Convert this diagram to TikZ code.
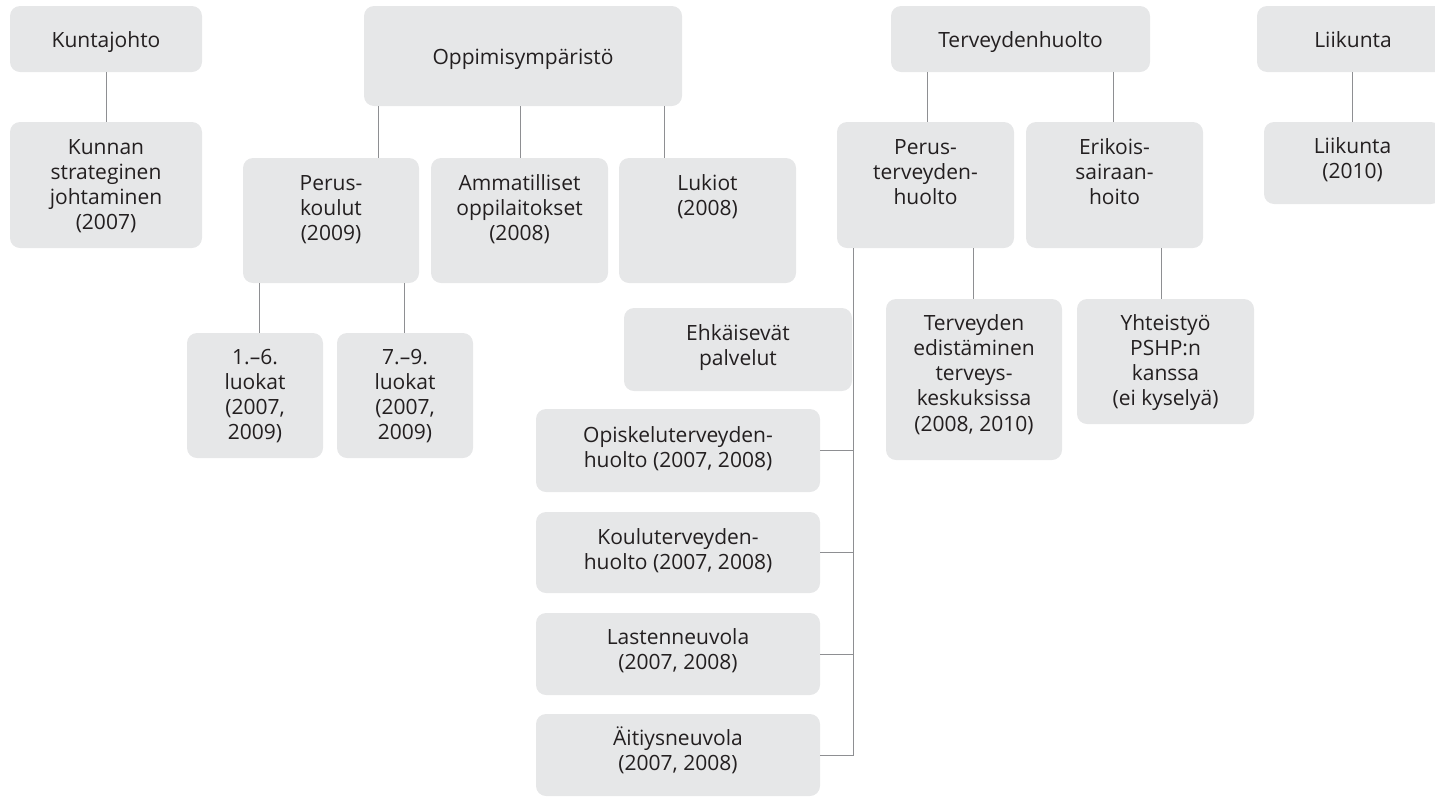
\documentclass[tikz,border=0pt]{standalone}
\usepackage{fontspec}
\setmainfont{Open Sans}
\definecolor{boxgray}{HTML}{E6E7E8}
\definecolor{linegray}{HTML}{8E8F92}
\definecolor{ink}{HTML}{231F20}

% name, x, y, width, height, first-baseline offset, text
\newcommand\orgbox[7]{%
  \node[box, minimum width=#4pt, minimum height=#5pt] (#1) at (#2,#3) {};
  \node[lbl] (#1-t) at ([yshift=-#6pt]#1.north) {\parbox[t]{#4pt}{\centering #7}};
}

\tikzset{
  box/.style={fill=boxgray, draw=none, rounded corners=10pt, anchor=north west, inner sep=0pt, outer sep=0pt},
  lbl/.style={anchor=base, inner sep=0pt, text=ink, font=\fontsize{21}{25.3}\selectfont},
  link/.style={draw=linegray, line width=1pt}
}

\begin{document}
\begin{tikzpicture}[x=1pt, y=-1pt]
\useasboundingbox (0,0) rectangle (1435,796);

% connector positions
\coordinate (c-kj) at (106,0);
\coordinate (c-pk) at (378,0);
\coordinate (c-am) at (520,0);
\coordinate (c-lu) at (664,0);
\coordinate (c-l16) at (259,0);
\coordinate (c-l79) at (404,0);
\coordinate (c-pt) at (927,0);
\coordinate (c-er) at (1113,0);
\coordinate (c-li) at (1352,0);
\coordinate (c-ed) at (973,0);
\coordinate (c-yh) at (1161,0);
\coordinate (c-trunk) at (853,0);

% Kuntajohto
\orgbox{kunta}{10}{6}{192}{66}{41}{Kuntajohto}
\orgbox{kstrat}{10}{122}{192}{126}{32}{Kunnan\\strateginen\\johtaminen\\(2007)}

% Oppimisympäristö
\orgbox{oppi}{364}{6}{318}{100}{58}{Oppimisympäristö}
\orgbox{perus}{243}{158}{176}{125}{32}{Perus-\\koulut\\(2009)}
\orgbox{ammat}{431}{158}{177}{125}{32}{Ammatilliset\\oppilaitokset\\(2008)}
\orgbox{lukiot}{619}{158}{177}{125}{32}{Lukiot\\(2008)}
\orgbox{lk16}{187}{333}{136}{125}{31}{1.–6.\\luokat\\(2007,\\2009)}
\orgbox{lk79}{337}{333}{136}{125}{31}{7.–9.\\luokat\\(2007,\\2009)}

% Terveydenhuolto
\orgbox{terv}{891}{6}{259}{66}{41}{Terveydenhuolto}
\orgbox{pterv}{837}{122}{177}{126}{32}{Perus-\\terveyden-\\huolto}
\orgbox{erik}{1026}{122}{177}{126}{32}{Erikois-\\sairaan-\\hoito}
\orgbox{edist}{886}{299}{176}{161}{31}{Terveyden\\edistäminen\\terveys-\\keskuksissa\\(2008, 2010)}
\orgbox{yht}{1077}{299}{177}{125}{31}{Yhteistyö\\PSHP:n\\kanssa\\(ei kyselyä)}
\orgbox{ehk}{624}{308}{228}{83}{32}{Ehkäisevät\\palvelut}
\orgbox{opisk}{536}{409}{284}{83}{33}{Opiskeluterveyden-\\huolto (2007, 2008)}
\orgbox{koulu}{536}{512}{284}{81}{32}{Kouluterveyden-\\huolto (2007, 2008)}
\orgbox{lasten}{536}{613}{284}{82}{31}{Lastenneuvola\\(2007, 2008)}
\orgbox{aiti}{536}{714}{284}{82}{31}{Äitiysneuvola\\(2007, 2008)}

% Liikunta
\orgbox{liik}{1257}{6}{192}{66}{41}{Liikunta}
\orgbox{liik2}{1264}{122}{177}{82}{31}{Liikunta\\(2010)}

% connectors
\draw[link] (kunta.south -| c-kj) -- (kstrat.north -| c-kj);
\draw[link] (oppi.south -| c-pk) -- (perus.north -| c-pk);
\draw[link] (oppi.south -| c-am) -- (ammat.north -| c-am);
\draw[link] (oppi.south -| c-lu) -- (lukiot.north -| c-lu);
\draw[link] (perus.south -| c-l16) -- (lk16.north -| c-l16);
\draw[link] (perus.south -| c-l79) -- (lk79.north -| c-l79);
\draw[link] (terv.south -| c-pt) -- (pterv.north -| c-pt);
\draw[link] (terv.south -| c-er) -- (erik.north -| c-er);
\draw[link] (liik.south -| c-li) -- (liik2.north -| c-li);
\draw[link] (pterv.south -| c-ed) -- (edist.north -| c-ed);
\draw[link] (erik.south -| c-yh) -- (yht.north -| c-yh);
\draw[link] (pterv.south -| c-trunk) -- (aiti.east -| c-trunk) -- (aiti.east);
\draw[link] (opisk.east) -- (opisk.east -| c-trunk);
\draw[link] (koulu.east) -- (koulu.east -| c-trunk);
\draw[link] (lasten.east) -- (lasten.east -| c-trunk);
\end{tikzpicture}
\end{document}
